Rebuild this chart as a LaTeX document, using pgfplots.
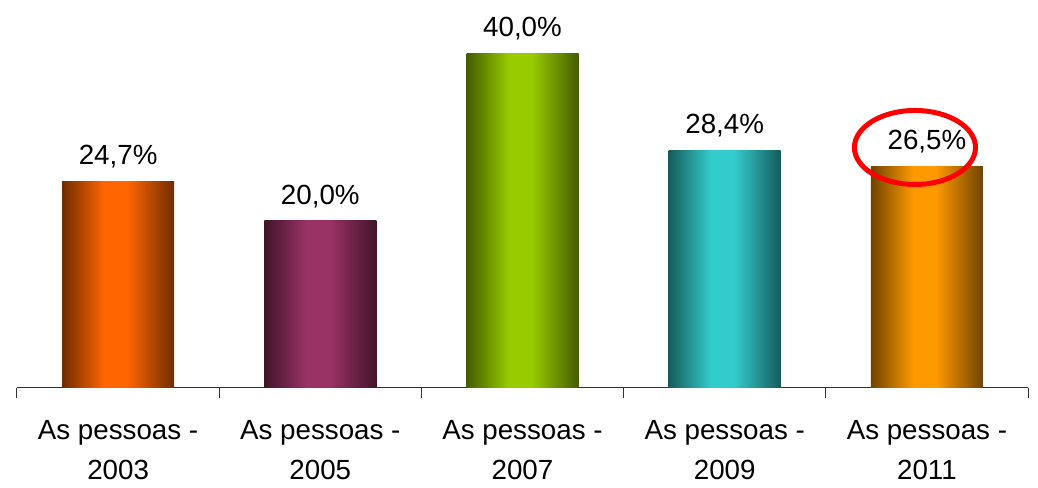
\documentclass[border=0pt]{standalone}
\usepackage{pgfplots}
\pgfplotsset{compat=1.18}
\usepackage{fontspec}
\setmainfont{Liberation Sans}
\definecolor{c1}{HTML}{FF6600}\definecolor{d1}{HTML}{702C00}
\definecolor{c2}{HTML}{993366}\definecolor{d2}{HTML}{421528}
\definecolor{c3}{HTML}{99CC00}\definecolor{d3}{HTML}{445C00}
\definecolor{c4}{HTML}{33CCCC}\definecolor{d4}{HTML}{175C5C}
\definecolor{c5}{HTML}{FF9900}\definecolor{d5}{HTML}{704400}
% the path box maps onto 25bp..75bp of the shading
\pgfdeclarehorizontalshading{s1}{100bp}{color(0bp)=(d1); color(25bp)=(d1); color(44bp)=(c1); color(54bp)=(c1); color(75bp)=(d1); color(100bp)=(d1)}
\pgfdeclarehorizontalshading{s2}{100bp}{color(0bp)=(d2); color(25bp)=(d2); color(44bp)=(c2); color(54bp)=(c2); color(75bp)=(d2); color(100bp)=(d2)}
\pgfdeclarehorizontalshading{s3}{100bp}{color(0bp)=(d3); color(25bp)=(d3); color(44bp)=(c3); color(54bp)=(c3); color(75bp)=(d3); color(100bp)=(d3)}
\pgfdeclarehorizontalshading{s4}{100bp}{color(0bp)=(d4); color(25bp)=(d4); color(44bp)=(c4); color(54bp)=(c4); color(75bp)=(d4); color(100bp)=(d4)}
\pgfdeclarehorizontalshading{s5}{100bp}{color(0bp)=(d5); color(25bp)=(d5); color(44bp)=(c5); color(54bp)=(c5); color(75bp)=(d5); color(100bp)=(d5)}
\begin{document}
\begin{tikzpicture}
\begin{axis}[
  scale only axis, width=758.25pt, height=291pt,
  xmin=-0.5, xmax=4.5, ymin=0, ymax=46.33,
  axis x line*=bottom, axis y line=none,
  axis line style={-, line width=0.75pt, black!80},
  xtick={0,1,2,3,4},
  xticklabels={{As pessoas -\\2003},{As pessoas -\\2005},{As pessoas -\\2007},{As pessoas -\\2009},{As pessoas -\\2011}},
  minor xtick={-0.5,0.5,1.5,2.5,3.5,4.5},
  major tick length=0pt, minor tick length=7.5pt, tick align=outside,
  minor tick style={line width=0.75pt, black!80},
  xticklabel style={font=\fontsize{20.8}{30}\selectfont, align=center, yshift=-21pt},
  ybar, bar width=84pt, bar shift=0pt, clip=false,
  nodes near coords={\pgfmathprintnumber[fixed,fixed zerofill,precision=1,use comma]{\pgfplotspointmeta}\%},
  nodes near coords style={font=\fontsize{20.8}{24}\selectfont, black, yshift=6pt,
    /pgf/number format/assume math mode=true},
]
\addplot[draw=none, shading=s1, shading angle=0] coordinates {(0,24.7)};
\addplot[draw=none, shading=s2, shading angle=0] coordinates {(1,20.0)};
\addplot[draw=none, shading=s3, shading angle=0] coordinates {(2,40.0)};
\addplot[draw=none, shading=s4, shading angle=0] coordinates {(3,28.4)};
\addplot[draw=none, shading=s5, shading angle=0] coordinates {(4,26.5)};
\draw[red, line width=3.75pt] (axis cs:3.941,28.72) ellipse [x radius=45.4pt, y radius=27.75pt];
\coordinate (O) at (rel axis cs:0,0);
\end{axis}
\pgfresetboundingbox
\path ([xshift=-12.75pt,yshift=-75pt]O) rectangle ([xshift=765.75pt,yshift=291pt]O);
\end{tikzpicture}
\end{document}
